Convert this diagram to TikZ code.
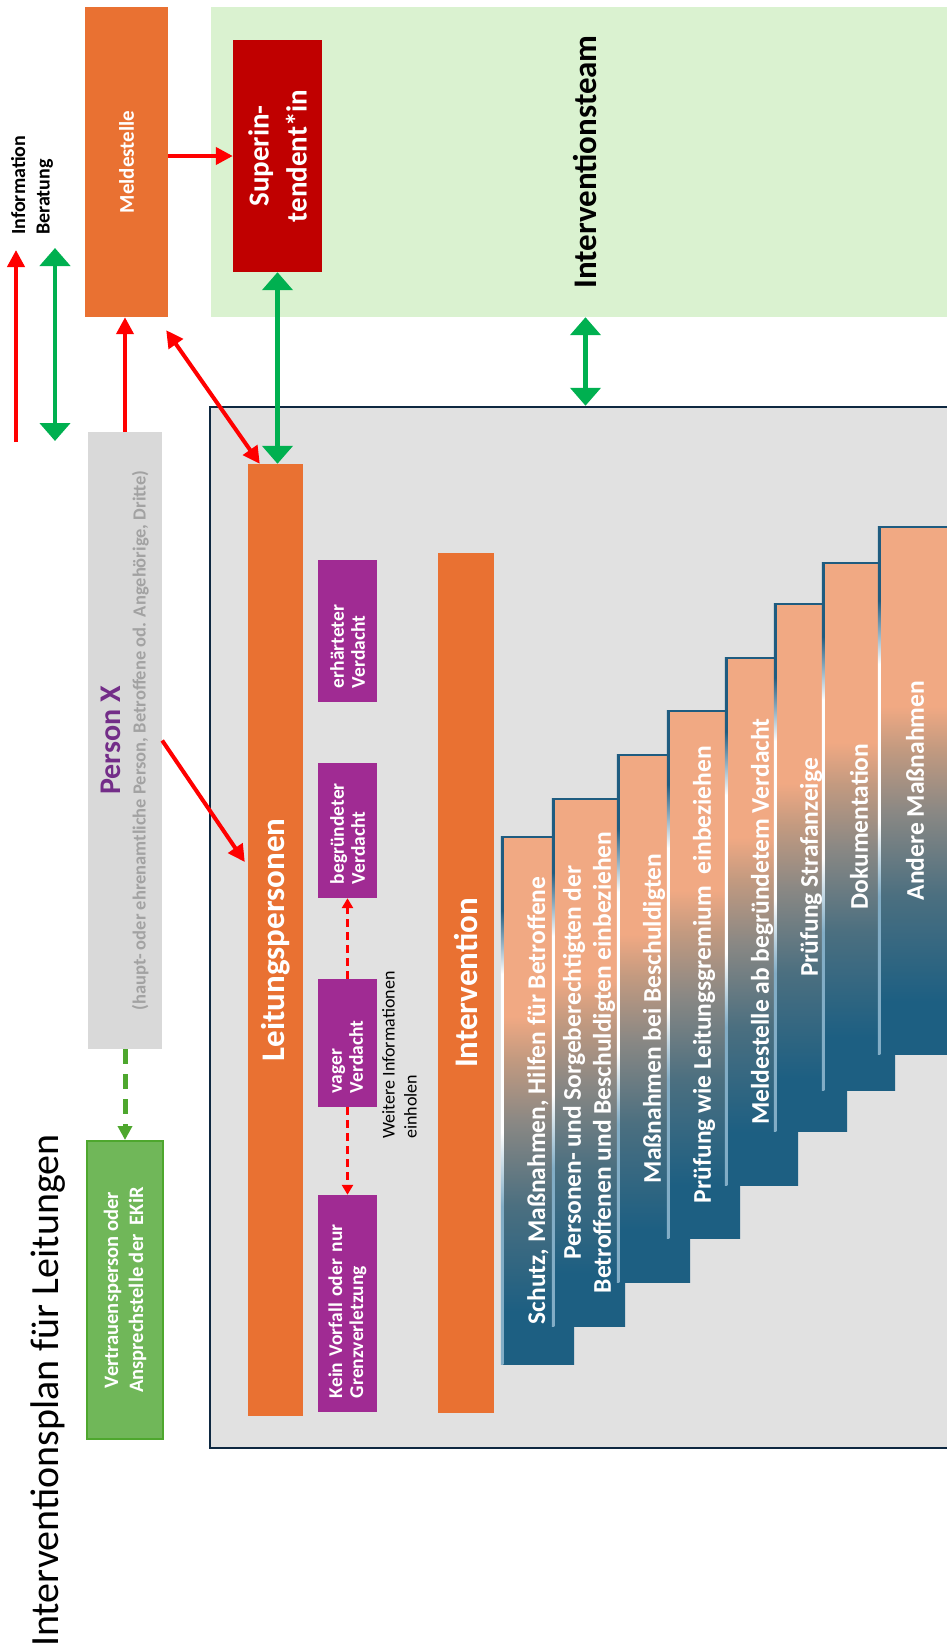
\documentclass[tikz,border=0pt]{standalone}
\usepackage{fontspec}
\setmainfont{Carlito}
\usetikzlibrary{arrows.meta}

\definecolor{orangeB}{HTML}{E97132}
\definecolor{redB}{HTML}{C00000}
\definecolor{teamG}{HTML}{DAF2D0}
\definecolor{planG}{HTML}{E1E1E1}
\definecolor{planL}{HTML}{0E2841}
\definecolor{pxG}{HTML}{D9D9D9}
\definecolor{pxP}{HTML}{732D88}
\definecolor{pxT}{HTML}{A2A2A2}
\definecolor{lila}{HTML}{A02B93}
\definecolor{vpG}{HTML}{70B759}
\definecolor{vpL}{HTML}{4EA72E}
\definecolor{infoR}{HTML}{FF0000}
\definecolor{beraG}{HTML}{00B050}
\definecolor{stBlue}{HTML}{1D5F82}
\definecolor{stSlate}{HTML}{4B6F80}
\definecolor{stGray}{HTML}{8A8884}
\definecolor{stTan}{HTML}{C39A80}
\definecolor{stPeach}{HTML}{F1A983}
\definecolor{stLine}{HTML}{1F5C80}
\definecolor{stLow}{HTML}{82ADC6}

\pgfdeclareverticalshading{stairshade}{100bp}{color(0bp)=(stBlue); color(30bp)=(stBlue); color(40bp)=(stSlate); color(48bp)=(stGray); color(54bp)=(stTan); color(58bp)=(stPeach); color(100bp)=(stPeach)}
\pgfdeclareverticalshading{edgeshade}{100bp}{color(0bp)=(stLow); color(40bp)=(stLow); color(47bp)=(white); color(62bp)=(white); color(68bp)=(stLine); color(100bp)=(stLine)}

\newcommand{\fsz}[2]{\fontsize{#1}{#2}\selectfont}

\tikzstyle{slab} = [rectangle, rotate=90, inner sep=0pt, text=white, align=center]
\tikzstyle{lilabox} = [slab, fill=lila, minimum height=59pt, align=left, inner xsep=14pt, font=\bfseries\fsz{19.5}{21}]
\tikzstyle{info} = [draw=infoR, line width=4pt, -{Triangle[length=17pt,width=17pt]}]
\tikzstyle{bera} = [draw=beraG, line width=4.5pt, {Triangle[length=18pt,width=30pt]}-{Triangle[length=18pt,width=30pt]}]

\begin{document}
\begin{tikzpicture}[x=1pt, y=-1pt,
  keytext/.style={rotate=90, inner sep=0pt, font=\bfseries\fsz{20}{22}},
  chk/.style={draw=infoR, line width=3pt, dash pattern=on 8pt off 5pt, -{Triangle[length=10pt,width=11pt]}},
  toVP/.style={draw=vpL, line width=5pt, dash pattern=on 15pt off 10pt, -{Triangle[length=14pt,width=14pt]}},
  stair/.style={rectangle, rotate=90, minimum width=527pt, minimum height=72pt, inner sep=0pt, shade, shading=stairshade, text=white, font=\bfseries\fsz{25.5}{30}, align=center},
  stairtop/.style={draw=stLine, line width=2.5pt}]
\useasboundingbox (0,0) rectangle (947,1649);

% Legend
\coordinate (iB) at (16,442);
\coordinate (iT) at (16,250);
\coordinate (bB) at (55,441);
\coordinate (bT) at (55,248);
\node[keytext, anchor=base west] (iLab) at (25,235) {Information};
\node[keytext, anchor=base west] (bLab) at (49.5,235) {Beratung};

% Define nodes
\node[rectangle, rotate=90, fill=teamG, minimum width=310pt, minimum height=749pt, font=\bfseries\fsz{33}{36}] (team) at (585.5,162) {Interventionsteam};
\node[slab, fill=orangeB, minimum width=310pt, minimum height=83pt, font=\bfseries\fsz{21}{24}] (mel) at (126.5,162) {Meldestelle};
\node[slab, fill=redB, minimum width=232pt, minimum height=89pt, font=\bfseries\fsz{29}{38}] (sup) at (277.5,156) {Superin-\\tendent*in};
\node[draw=planL, line width=2.5pt, fill=planG, minimum width=755pt, minimum height=1041pt, inner sep=0pt] (plan) at (587.5,927.5) {};

\node[slab, fill=pxG, minimum width=617pt, minimum height=74pt, font=\bfseries\fsz{18.5}{25}] (px) at (125,740.5)
  {\textcolor{pxP}{\fsz{30}{25}Person X}\\\textcolor{pxT}{(haupt- oder ehrenamtliche Person, Betroffene od. Angehörige, Dritte)}};
\node[slab, fill=vpG, draw=vpL, line width=2pt, minimum width=298pt, minimum height=76pt, font=\bfseries\fsz{20.5}{25}] (vp) at (125,1290) {Vertrauensperson oder\\Ansprechstelle der~ EKiR};

\node[slab, fill=orangeB, minimum width=952pt, minimum height=55pt, font=\bfseries\fsz{33}{36}] (leit) at (275.5,940) {Leitungspersonen};
\node[slab, fill=orangeB, minimum width=860pt, minimum height=56pt, font=\bfseries\fsz{33}{36}] (intv) at (466,983) {Intervention};

\node[lilabox, text width=114pt] (erh) at (347.5,631) {erhärteter\\Verdacht};
\node[lilabox, text width=107pt] (beg) at (347.5,830.5) {begründeter\\Verdacht};
\node[lilabox, text width=100pt] (vag) at (347.5,1043) {vager\\Verdacht};
\node[lilabox, text width=189pt] (kein) at (347.5,1303.5) {Kein Vorfall oder nur\\Grenzverletzung};
\node[rotate=90, anchor=north west, inner sep=0pt, align=left, font=\fsz{18}{22}] (mehr) at (382,1139) {Weitere Informationen\\einholen};

\foreach \n/\x/\y/\txt in {1/502/837/{Schutz, Maßnahmen, Hilfen für Betroffene},
    2/553/799/{Personen- und Sorgeberechtigten der\\Betroffenen und Beschuldigten einbeziehen},
    3/618/755/{Maßnahmen bei Beschuldigten},
    4/668/711/{Prüfung wie Leitungsgremium~ einbeziehen},
    5/726/658/{Meldestelle ab begründetem Verdacht},
    6/775/604/{Prüfung Strafanzeige},
    7/823/563/{Dokumentation},
    8/879/527/{Andere Maßnahmen}}
{
  \node[stair] (st\n) at (\x+36,\y+263.5) {\txt};
  \shade[shading=edgeshade] ([xshift=-1pt]st\n.north west) rectangle ([xshift=1.5pt]st\n.north east);
  \draw[stairtop] (st\n.north east) -- (st\n.south east);
}

\node[rotate=90, anchor=base west, inner sep=0pt, font=\fsz{40}{44}] (title) at (58,1647) {Interventionsplan für Leitungen};

% Edges
\draw[info] (iB) -- (iT);
\draw[bera] (bB) -- (bT);
\draw[info] (mel.south |- sup.north) -- (sup.north);
\draw[info] (px.east) -- (px.east |- mel.west);
\draw[info, {Triangle[length=17pt,width=17pt]}-{Triangle[length=17pt,width=17pt]}] ([shift={(-2,13)}]mel.south west) -- ([xshift=12pt]leit.north east);
\draw[info] (px.south) -- ([shift={(-3,-78)}]leit.north);
\draw[bera] (sup.west) -- (sup.west |- leit.east);
\draw[bera] (team.west) -- (team.west |- plan.north);
\draw[chk] (vag.east) -- (beg.west);
\draw[chk] (vag.west) -- (kein.east);
\draw[toVP] (px.west) -- (vp.east);

\end{tikzpicture}
\end{document}
